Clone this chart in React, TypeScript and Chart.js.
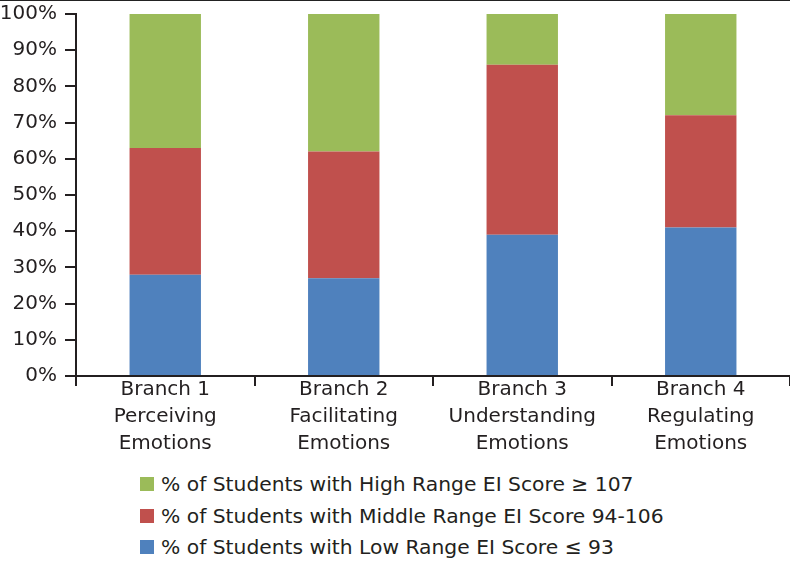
import React, { useEffect, useRef } from "react";
import { Chart, registerables } from "chart.js";

Chart.register(...registerables);

const categories: string[][] = [
  ["Branch 1", "Perceiving", "Emotions"],
  ["Branch 2", "Facilitating", "Emotions"],
  ["Branch 3", "Understanding", "Emotions"],
  ["Branch 4", "Regulating", "Emotions"],
];
const lowValues = [28, 27, 39, 41];
const middleValues = [35, 35, 47, 31];
const highValues = [37, 38, 14, 28];
const yTicks = [0, 10, 20, 30, 40, 50, 60, 70, 80, 90, 100];

const lowLabel = "% of Students with Low Range EI Score \u2264 93";
const middleLabel = "% of Students with Middle Range EI Score 94-106";
const highLabel = "% of Students with High Range EI Score \u2265 107";

const GREEN = "#9BBB59";
const RED = "#C0504D";
const BLUE = "#4F81BD";
const INK = "#231f20";
const FONT = "'DejaVu Sans', sans-serif";

export default function App() {
  const ref = useRef<HTMLCanvasElement | null>(null);

  useEffect(() => {
    if (!ref.current) return;
    const chart = new Chart(ref.current, {
      type: "bar",
      data: {
        labels: categories as any,
        datasets: [
          { label: lowLabel, data: lowValues, backgroundColor: BLUE },
          { label: middleLabel, data: middleValues, backgroundColor: RED },
          { label: highLabel, data: highValues, backgroundColor: GREEN },
        ],
      },
      options: {
        animation: false,
        responsive: false,
        maintainAspectRatio: false,
        layout: { padding: { top: 8, right: 0, bottom: 0, left: 0 } },
        plugins: { legend: { display: false }, tooltip: { enabled: false } },
        datasets: { bar: { categoryPercentage: 1, barPercentage: 0.4 } } as any,
        scales: {
          x: {
            stacked: true,
            grid: {
              drawOnChartArea: false,
              drawTicks: true,
              tickLength: 10,
              color: INK,
              lineWidth: 2,
              offset: true,
            },
            border: { color: INK, width: 2 },
            ticks: {
              color: INK,
              font: { family: FONT, size: 20, lineHeight: "27px" as any },
              padding: -10,
              maxRotation: 0,
              autoSkip: false,
            },
            afterFit: (s: any) => {
              s.height = 89;
            },
          },
          y: {
            stacked: true,
            min: 0,
            max: 100,
            afterBuildTicks: (s: any) => {
              s.ticks = yTicks.map((v) => ({ value: v }));
            },
            grid: {
              drawOnChartArea: false,
              drawTicks: true,
              tickLength: 11,
              color: INK,
              lineWidth: 2,
            },
            border: { color: INK, width: 2 },
            ticks: {
              color: INK,
              font: { family: FONT, size: 20 },
              padding: 8,
              callback: (v: any) => v + "%",
            },
            afterFit: (s: any) => {
              s.width = 76;
            },
          },
        },
      },
    });
    return () => chart.destroy();
  }, []);

  const legendItems = [
    { label: highLabel, color: GREEN },
    { label: middleLabel, color: RED },
    { label: lowLabel, color: BLUE },
  ];

  return (
    <div
      style={{
        position: "fixed",
        left: 0,
        top: 0,
        width: 790,
        height: 561,
        background: "#fff",
        overflow: "hidden",
      }}
    >
      <canvas ref={ref} width={790} height={471} style={{ position: "absolute", left: 0, top: -6 }} />
      <div style={{ position: "absolute", left: 0, top: 0, width: 790, height: 1, background: "#222" }} />
      {legendItems.map((it, i) => (
        <div
          key={i}
          style={{
            position: "absolute",
            left: 140,
            top: 469 + i * 31.5,
            height: 30,
            display: "flex",
            alignItems: "center",
            fontFamily: FONT,
            fontSize: 20.3,
            color: INK,
            whiteSpace: "nowrap",
          }}
        >
          <span style={{ display: "inline-block", width: 14, height: 14, background: it.color, marginRight: 7 }} />
          <span>{it.label}</span>
        </div>
      ))}
    </div>
  );
}
